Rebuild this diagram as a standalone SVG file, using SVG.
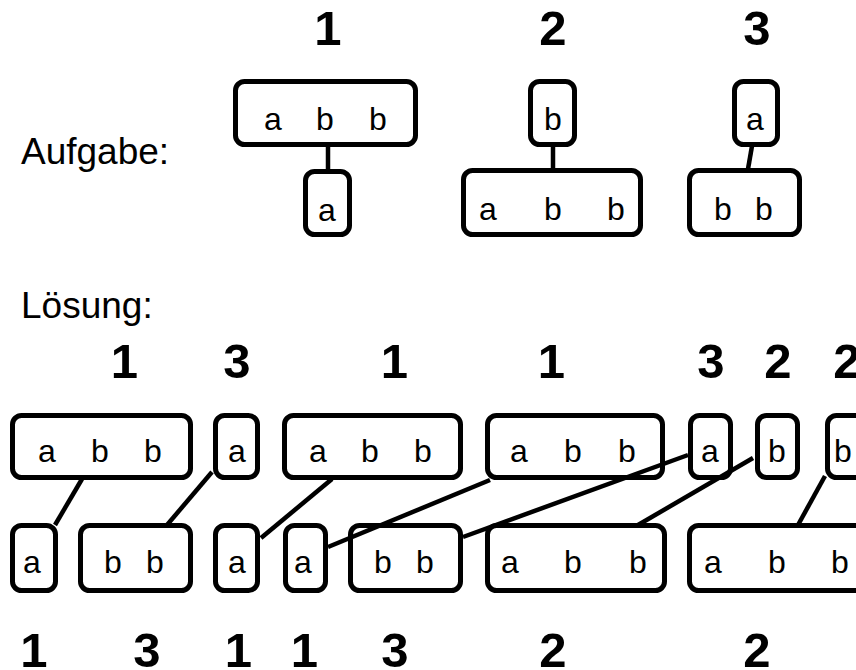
<svg xmlns="http://www.w3.org/2000/svg" width="856" height="670" viewBox="0 0 856 670">
<style>
.box{fill:none;stroke:#000;stroke-width:5}
.t{font-family:"Liberation Sans",Arial,sans-serif;font-size:32px;text-anchor:middle;fill:#000}
.lbl{font-family:"Liberation Sans",Arial,sans-serif;font-size:37px;fill:#000}
.num{font-family:"Liberation Sans",Arial,sans-serif;font-size:49px;font-weight:bold;text-anchor:middle;fill:#000}
.con line{stroke:#000;stroke-width:4.5}
</style>
<rect width="856" height="670" fill="#fff"/>
<text class="lbl" x="21" y="164">Aufgabe:</text>
<text class="lbl" x="21" y="318">Lösung:</text>
<g id="task-labels">
<text class="num" x="328" y="45">1</text>
<text class="num" x="553" y="45">2</text>
<text class="num" x="757" y="45">3</text>
</g>
<g id="T1a"><rect class="box" x="235.5" y="81.5" width="180" height="63" rx="9"/><text class="t" x="273" y="130">a</text><text class="t" x="325" y="130">b</text><text class="t" x="378" y="130">b</text></g>
<g id="T1b"><rect class="box" x="305.5" y="171.5" width="44" height="63" rx="9"/><text class="t" x="327" y="221">a</text></g>
<g id="T2a"><rect class="box" x="530.5" y="81.5" width="44" height="63" rx="9"/><text class="t" x="553" y="130">b</text></g>
<g id="T2b"><rect class="box" x="463.5" y="170.5" width="177" height="64" rx="9"/><text class="t" x="488" y="220">a</text><text class="t" x="553" y="220">b</text><text class="t" x="616" y="220">b</text></g>
<g id="T3a"><rect class="box" x="734.5" y="81.5" width="43" height="63" rx="9"/><text class="t" x="755" y="130">a</text></g>
<g id="T3b"><rect class="box" x="689.5" y="170.5" width="110" height="64" rx="9"/><text class="t" x="723" y="220">b</text><text class="t" x="764" y="220">b</text></g>
<g id="sol-top-labels">
<text class="num" x="124.5" y="378">1</text>
<text class="num" x="237" y="378">3</text>
<text class="num" x="394.5" y="378">1</text>
<text class="num" x="551.5" y="378">1</text>
<text class="num" x="711" y="378">3</text>
<text class="num" x="778" y="378">2</text>
<text class="num" x="847" y="378">2</text>
</g>
<g id="B1"><rect class="box" x="12.5" y="415.5" width="178" height="62" rx="9"/><text class="t" x="47" y="462">a</text><text class="t" x="100" y="462">b</text><text class="t" x="153" y="462">b</text></g>
<g id="B2"><rect class="box" x="215.5" y="415.5" width="42" height="62" rx="9"/><text class="t" x="237" y="462">a</text></g>
<g id="B3"><rect class="box" x="284.5" y="415.5" width="176" height="62" rx="9"/><text class="t" x="318" y="462">a</text><text class="t" x="370" y="462">b</text><text class="t" x="423" y="462">b</text></g>
<g id="B4"><rect class="box" x="487.5" y="415.5" width="175" height="62" rx="9"/><text class="t" x="519" y="462">a</text><text class="t" x="573" y="462">b</text><text class="t" x="627" y="462">b</text></g>
<g id="B5"><rect class="box" x="690.5" y="415.5" width="40" height="62" rx="9"/><text class="t" x="710" y="462">a</text></g>
<g id="B6"><rect class="box" x="757.5" y="415.5" width="40" height="62" rx="9"/><text class="t" x="777" y="462">b</text></g>
<g id="B7"><rect class="box" x="827.5" y="415.5" width="60" height="62" rx="9"/><text class="t" x="843" y="462">b</text></g>
<g id="C1"><rect class="box" x="12.5" y="525.5" width="43" height="65" rx="9"/><text class="t" x="32" y="573">a</text></g>
<g id="C2"><rect class="box" x="80.5" y="525.5" width="110" height="65" rx="9"/><text class="t" x="113" y="573">b</text><text class="t" x="155" y="573">b</text></g>
<g id="C3"><rect class="box" x="215.5" y="525.5" width="42" height="65" rx="9"/><text class="t" x="237" y="573">a</text></g>
<g id="C4"><rect class="box" x="285.5" y="525.5" width="40" height="65" rx="9"/><text class="t" x="303" y="573">a</text></g>
<g id="C5"><rect class="box" x="350.5" y="525.5" width="110" height="65" rx="9"/><text class="t" x="383" y="573">b</text><text class="t" x="425" y="573">b</text></g>
<g id="C6"><rect class="box" x="487.5" y="525.5" width="177" height="65" rx="9"/><text class="t" x="510" y="573">a</text><text class="t" x="573" y="573">b</text><text class="t" x="638" y="573">b</text></g>
<g id="C7"><rect class="box" x="689.5" y="525.5" width="200" height="65" rx="9"/><text class="t" x="713" y="573">a</text><text class="t" x="777" y="573">b</text><text class="t" x="840" y="573">b</text></g>
<g id="sol-bottom-labels">
<text class="num" x="34" y="667">1</text>
<text class="num" x="147" y="667">3</text>
<text class="num" x="238.5" y="667">1</text>
<text class="num" x="304.5" y="667">1</text>
<text class="num" x="395" y="667">3</text>
<text class="num" x="553" y="667">2</text>
<text class="num" x="757" y="667">2</text>
</g>
<g id="connectors" class="con">
<line x1="328" y1="146" x2="328" y2="170"/>
<line x1="553" y1="146" x2="553" y2="169"/>
<line x1="752" y1="146" x2="748" y2="169"/>
<line x1="82" y1="479" x2="55" y2="525"/>
<line x1="212" y1="472" x2="167" y2="525"/>
<line x1="332" y1="479" x2="261" y2="538"/>
<line x1="490" y1="480" x2="328" y2="547"/>
<line x1="688" y1="455" x2="463" y2="537"/>
<line x1="753" y1="458" x2="638" y2="525"/>
<line x1="825" y1="476" x2="798" y2="525"/>
</g>
</svg>
